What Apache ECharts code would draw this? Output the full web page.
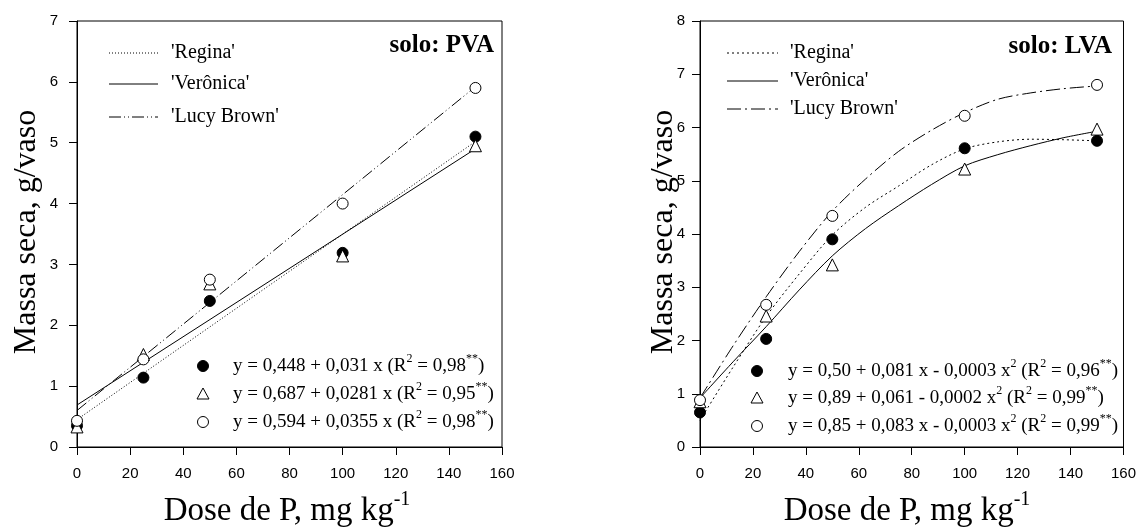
<!DOCTYPE html>
<html>
<head>
<meta charset="utf-8">
<script src="https://cdn.jsdelivr.net/npm/echarts@6/dist/echarts.min.js"></script>
<style>
  html, body { margin: 0; padding: 0; background: #fff; }
  #chart { width: 1139px; height: 531px; }
</style>
</head>
<body>
<div id="chart"></div>
<script>
// observed doses (mg/kg of P)
const doses = [0, 25, 50, 100, 150];

// solo PVA - dry mass, g/vaso
const pvaRegina = [0.35, 1.14, 2.40, 3.19, 5.10];
const pvaVeronica = [0.33, 1.52, 2.68, 3.14, 4.95];
const pvaLucy = [0.43, 1.44, 2.75, 4.00, 5.90];

// solo LVA - dry mass, g/vaso
const lvaRegina = [0.65, 2.03, 3.90, 5.61, 5.75];
const lvaVeronica = [0.85, 2.46, 3.42, 5.22, 5.97];
const lvaLucy = [0.88, 2.67, 4.34, 6.22, 6.80];

// fitted lines
const pvaFitX = [0, 150];
const pvaFitRegina = [0.45, 5.02];
const pvaFitVeronica = [0.69, 4.90];
const pvaFitLucy = [0.60, 5.92];

const lvaFitX = [0, 12.5, 25, 37.5, 50, 62.5, 75, 87.5, 100, 112.5, 125, 137.5, 150];
const lvaFitRegina = [0.50, 1.50, 2.45, 3.25, 3.98, 4.50, 4.90, 5.30, 5.60, 5.73, 5.78, 5.77, 5.75];
const lvaFitVeronica = [0.92, 1.60, 2.26, 2.95, 3.59, 4.10, 4.53, 4.93, 5.28, 5.49, 5.66, 5.81, 5.93];
const lvaFitLucy = [0.92, 1.90, 2.82, 3.67, 4.43, 5.03, 5.55, 5.95, 6.28, 6.53, 6.65, 6.73, 6.78];

const xTicks = [0, 20, 40, 60, 80, 100, 120, 140, 160];
const cultivars = ["'Regina'", "'Verônica'", "'Lucy Brown'"];
const pvaEquations = [
  'y = 0,448 + 0,031 x (R{sup|2} = 0,98{sup|**})',
  'y = 0,687 + 0,0281 x (R{sup|2} = 0,95{sup|**})',
  'y = 0,594 + 0,0355 x (R{sup|2} = 0,98{sup|**})'
];
const lvaEquations = [
  'y = 0,50 + 0,081 x - 0,0003 x{sup|2} (R{sup|2} = 0,96{sup|**})',
  'y = 0,89 + 0,061 - 0,0002 x{sup|2} (R{sup|2} = 0,99{sup|**})',
  'y = 0,85 + 0,083 x - 0,0003 x{sup|2} (R{sup|2} = 0,99{sup|**})'
];

const SERIF = '"Liberation Serif", "Times New Roman", serif';

const pair = (xs, ys) => xs.map((x, i) => [x, ys[i]]);

const dotted = [1, 2];
const dottedR = [2, 3];
const dashDotDot = [12, 3, 1, 3, 1, 3];
const dashDot = [14, 4, 2, 4];

function xAxisOf(idx) {
  return {
    gridIndex: idx, type: 'value', min: 0, max: 160, interval: 20,
    axisLine: { lineStyle: { color: '#000', width: 1 } },
    axisTick: { length: 8, lineStyle: { color: '#000' } },
    axisLabel: { margin: 19, fontSize: 15, fontFamily: 'Arial', color: '#000',
      formatter: v => xTicks.includes(v) ? String(v) : '' },
    splitLine: { show: false }
  };
}
function yAxisOf(idx, max) {
  return {
    gridIndex: idx, type: 'value', min: 0, max: max, interval: 1,
    axisLine: { lineStyle: { color: '#000', width: 1 } },
    axisTick: { length: 8, lineStyle: { color: '#000' } },
    axisLabel: { margin: idx === 0 ? 19 : 15, fontSize: 15, fontFamily: 'Arial', color: '#000' },
    splitLine: { show: false }
  };
}

function fitLine(name, idx, xs, ys, dash, smooth) {
  return {
    name, type: 'line', xAxisIndex: idx, yAxisIndex: idx,
    data: pair(xs, ys), showSymbol: false, symbol: 'none', smooth: smooth ? 0.3 : false,
    lineStyle: { color: '#000', width: 1, type: dash }, z: 2, silent: true
  };
}
function points(name, idx, ys, kind) {
  const filled = kind === 'filled';
  return {
    name, type: 'scatter', xAxisIndex: idx, yAxisIndex: idx,
    data: pair(doses, ys),
    symbol: kind === 'triangle' ? 'triangle' : 'circle',
    symbolSize: kind === 'triangle' ? 12 : 11,
    itemStyle: { color: filled ? '#000' : '#fff', borderColor: '#000', borderWidth: 1, opacity: 1 },
    z: kind === 'open' ? 5 : 4
  };
}

function legendBlock(x1, x2, tx, ys, dashes) {
  const out = [];
  ys.forEach((y, i) => {
    out.push({ type: 'line', shape: { x1, y1: y, x2, y2: y },
      style: { stroke: '#000', lineWidth: 1, lineDash: dashes[i] } });
    out.push({ type: 'text', x: tx, y,
      style: { text: cultivars[i], font: '20px ' + SERIF, fill: '#000', align: 'left', verticalAlign: 'middle' } });
  });
  return out;
}
function marker(kind, x, y) {
  if (kind === 'triangle') {
    return { type: 'polygon', shape: { points: [[x, y - 6], [x + 6, y + 5], [x - 6, y + 5]] },
      style: { fill: '#fff', stroke: '#000', lineWidth: 1 } };
  }
  return { type: 'circle', shape: { cx: x, cy: y, r: 5.5 },
    style: { fill: kind === 'filled' ? '#000' : '#fff', stroke: '#000', lineWidth: 1 } };
}
function eqBlock(mx, tx, ys, texts) {
  const kinds = ['filled', 'triangle', 'open'];
  const out = [];
  ys.forEach((y, i) => {
    out.push(marker(kinds[i], mx, y));
    out.push({ type: 'text', x: tx, y,
      style: { text: texts[i], font: '19px ' + SERIF, fill: '#000', align: 'left', verticalAlign: 'middle',
        lineHeight: 26, rich: { sup: { font: '12px ' + SERIF, verticalAlign: 'top', lineHeight: 12 } } } });
  });
  return out;
}
function xTitle(cx) {
  return { type: 'text', x: cx, y: 511,
    style: { text: 'Dose de P, mg kg{sup|-1}', font: '33px ' + SERIF, fill: '#000', align: 'center',
      verticalAlign: 'middle', lineHeight: 42, rich: { sup: { font: '20px ' + SERIF, verticalAlign: 'top', lineHeight: 20 } } } };
}
function yTitle(cx) {
  return { type: 'text', x: cx, y: 232, rotation: Math.PI / 2,
    style: { text: 'Massa seca, g/vaso', font: '32px ' + SERIF, fill: '#000', align: 'center', verticalAlign: 'middle' } };
}

const chart = echarts.init(document.getElementById('chart'), null, { renderer: 'canvas' });
chart.setOption({
  backgroundColor: '#fff',
  animation: false,
  grid: [
    { left: 77, top: 21, width: 425, height: 426, show: true, borderColor: '#000', borderWidth: 1, backgroundColor: 'transparent' },
    { left: 700, top: 21, width: 425, height: 426, show: true, borderColor: '#000', borderWidth: 1, backgroundColor: 'transparent' }
  ],
  xAxis: [xAxisOf(0), xAxisOf(1)],
  yAxis: [yAxisOf(0, 7), yAxisOf(1, 8)],
  series: [
    fitLine('Regina fit PVA', 0, pvaFitX, pvaFitRegina, dotted, false),
    fitLine('Veronica fit PVA', 0, pvaFitX, pvaFitVeronica, 'solid', false),
    fitLine('Lucy fit PVA', 0, pvaFitX, pvaFitLucy, dashDotDot, false),
    points('Regina PVA', 0, pvaRegina, 'filled'),
    points('Veronica PVA', 0, pvaVeronica, 'triangle'),
    points('Lucy PVA', 0, pvaLucy, 'open'),
    fitLine('Regina fit LVA', 1, lvaFitX, lvaFitRegina, dottedR, true),
    fitLine('Veronica fit LVA', 1, lvaFitX, lvaFitVeronica, 'solid', true),
    fitLine('Lucy fit LVA', 1, lvaFitX, lvaFitLucy, dashDot, true),
    points('Regina LVA', 1, lvaRegina, 'filled'),
    points('Veronica LVA', 1, lvaVeronica, 'triangle'),
    points('Lucy LVA', 1, lvaLucy, 'open')
  ],
  graphic: [].concat(
    legendBlock(109, 158, 171, [53, 84, 117], [dotted, null, dashDotDot]),
    legendBlock(727, 778, 790, [53, 81, 109], [dottedR, null, dashDot]),
    [
      { type: 'text', x: 494, y: 46, style: { text: 'solo: PVA', font: 'bold 25px ' + SERIF, fill: '#000', align: 'right', verticalAlign: 'middle' } },
      { type: 'text', x: 1112, y: 47, style: { text: 'solo: LVA', font: 'bold 25px ' + SERIF, fill: '#000', align: 'right', verticalAlign: 'middle' } }
    ],
    eqBlock(203, 233, [366, 394, 422], pvaEquations),
    eqBlock(757, 788, [371, 398, 426], lvaEquations),
    [xTitle(287), xTitle(907), yTitle(27), yTitle(664)]
  )
});
</script>
</body>
</html>
